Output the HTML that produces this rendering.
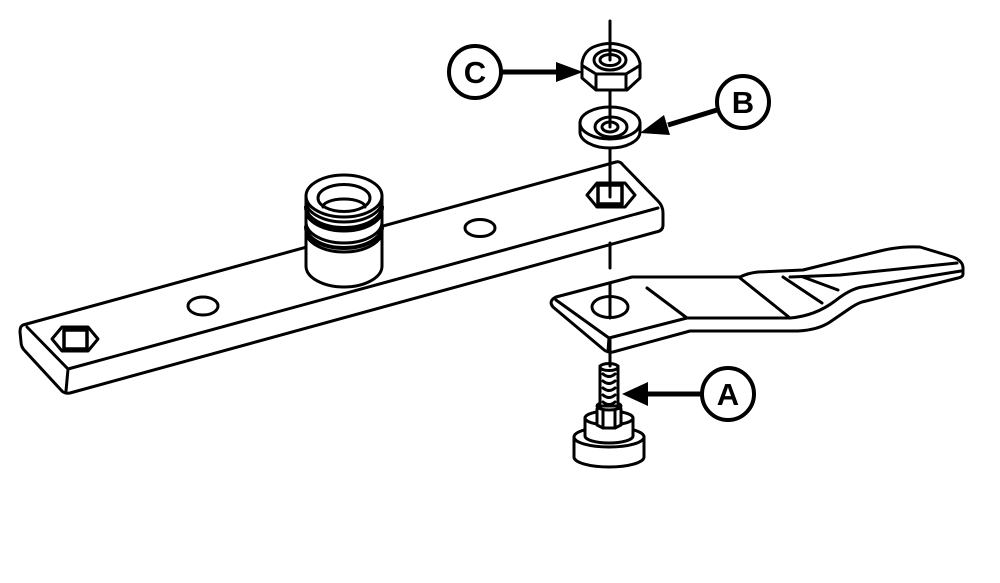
<!DOCTYPE html>
<html><head><meta charset="utf-8"><style>
html,body{margin:0;padding:0;background:#fff;}
svg{display:block;}
text{font-family:"Liberation Sans",Arial,sans-serif;font-weight:bold;}
</style></head><body>
<svg width="1000" height="583" viewBox="0 0 1000 583" xmlns="http://www.w3.org/2000/svg">
<rect width="1000" height="583" fill="#fff"/>
<g fill="#fff" stroke="#000" stroke-width="3" stroke-linejoin="round" stroke-linecap="round">
<!-- bar -->
<path d="M 23,325 L 616,162 Q 620,161 623,165 L 658,201 Q 663,206 663,213 L 663,225 Q 663,231 656,232 L 70,393 Q 64,394 61,390 L 25,351 Q 21,347 21,342 L 20,332 Q 20,326 23,325 Z"/>
<path d="M 27,327 L 68,369 L 658,208 M 68,369 L 66,391" fill="none"/>
<ellipse cx="203" cy="306" rx="15" ry="9"/>
<ellipse cx="480" cy="228" rx="15" ry="8.5"/>
<polygon points="52,339 62,327 88,327 98,339 88,351 62,351"/>
<rect x="64" y="330" width="23" height="19" stroke-width="3.5"/>
<polygon points="587,195 597,183 625,183 635,195 625,207 597,207"/>
<rect x="598" y="185" width="24" height="19" stroke-width="3.5"/>

<!-- bushing -->
<path d="M 306,196 L 306,266 A 38,21 0 0 0 382,266 L 382,196 Z"/>
<ellipse cx="344" cy="196" rx="38" ry="21"/>
<g fill="none">
<path d="M 306,201 A 38,21 0 0 0 382,201"/>
<path d="M 306,207 A 38,21 0 0 0 382,207" stroke-width="4"/>
<path d="M 306,210 A 38,21 0 0 0 382,210"/>
<path d="M 306,222 A 38,21 0 0 0 382,222"/>
<path d="M 306,227 A 38,21 0 0 0 382,227" stroke-width="4"/>
<path d="M 306,231 A 38,21 0 0 0 382,231"/>
</g>
<ellipse cx="344" cy="198" rx="26" ry="13.5"/>
<path d="M 323,207 A 21,8 0 0 1 365,207" fill="none"/>

<!-- blade -->
<path d="M 556,297 L 632,277 L 740,277 Q 748,273 758,272 L 803,270 L 880,251 Q 900,246 920,247 L 953,257 Q 963,261 963,268 L 963,274 Q 963,277 958,278 L 862,302 Q 856,304 849,309 L 830,322 Q 818,330 798,331 L 690,331 L 613,352 Q 607,353 603,349 L 553,307 Q 548,301 556,297 Z"/>
<path d="M 556,300 L 609,338 L 687,318 L 790,318 Q 815,316 835,301 Q 850,289 862,287 L 961,271 M 609,338 L 608,351 M 790,277 L 840,275 L 957,263 M 647,288 L 687,318 M 740,278 L 790,318 M 783,277 L 822,303 M 803,277 L 838,290" fill="none"/>
<ellipse cx="610" cy="307" rx="18" ry="10.5"/>

<!-- nut C -->
<path d="M 582,63 Q 584,50 596,46 Q 610,41 624,46 Q 637,50 640,63 L 640,78 L 627,90 L 596,90 L 582,78 Z"/>
<path d="M 583,66 L 596,74 L 626,74 L 639,66 M 596,74 L 596,90 M 626,74 L 626,90" fill="none"/>
<ellipse cx="610" cy="60" rx="16" ry="10"/>
<ellipse cx="610" cy="60" rx="10" ry="5.5"/>

<!-- washer B -->
<path d="M 580,123 L 580,132 A 30,16 0 0 0 640,132 L 640,123 Z"/>
<ellipse cx="610" cy="123" rx="30" ry="16"/>
<ellipse cx="611" cy="127" rx="16" ry="10"/>
<ellipse cx="610" cy="127" rx="8" ry="5"/>

<!-- bolt A -->
<path d="M 574,437 L 574,457 A 35,10 0 0 0 644,457 L 644,437 Z"/>
<ellipse cx="609" cy="437" rx="35" ry="10"/>
<path d="M 585,418 L 585,436 A 24,7 0 0 0 633,436 L 633,418 Z"/>
<ellipse cx="609" cy="418" rx="24" ry="7"/>
<polygon points="597,409 603,406 615,406 621,409 621,425 615,428 603,428 597,425"/>
<path d="M603,406 L603,428 M615,406 L615,428" fill="none"/>
<ellipse cx="609" cy="406" rx="12" ry="4"/>
<rect x="600" y="366" width="18" height="40"/>
<ellipse cx="609" cy="367" rx="9" ry="3.5"/>
<path d="M603,374 Q609,379 615,374 M603,381 Q609,386 615,381 M603,388 Q609,393 615,388 M603,395 Q609,400 615,395 M603,402 Q609,407 615,402" fill="none"/>

<!-- axis -->
<path d="M610,21 L610,60 M610,90 L610,127 M610,148 L610,197 M610,243 L610,268 M610,283 L610,318 M610,340 L610,366" fill="none"/>

<!-- callouts -->
<circle cx="475" cy="72" r="26" stroke-width="4"/>
<circle cx="743" cy="102" r="26" stroke-width="4"/>
<circle cx="728" cy="394" r="26" stroke-width="4"/>
<path d="M 501,72 L 560,72 M 717,110 L 668,125 M 702,394 L 646,394" fill="none" stroke-width="5" stroke-linecap="butt"/>
</g>
<g fill="#000">
<polygon points="583,72 556,62 556,82"/>
<polygon points="640,133 670,135 664,115"/>
<polygon points="622,394 648,382 648,406"/>
</g>
<text x="475" y="83" font-size="31" text-anchor="middle">C</text>
<text x="743" y="113" font-size="31" text-anchor="middle">B</text>
<text x="728" y="405" font-size="31" text-anchor="middle">A</text>
</svg>
</body></html>
